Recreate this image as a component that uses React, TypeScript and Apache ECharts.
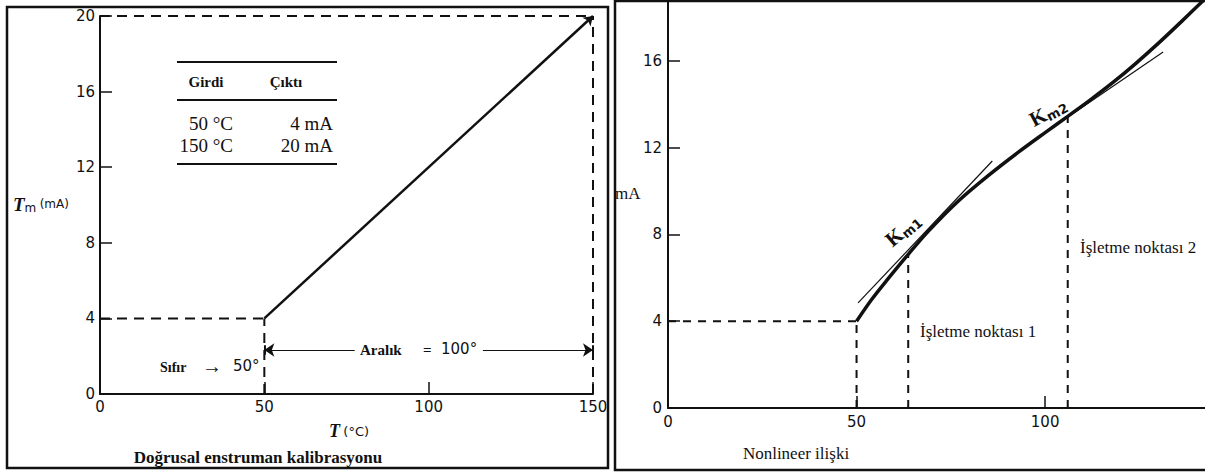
import React, { useEffect, useRef } from "react";
import * as echarts from "echarts";

// Left: linear calibration
const calibInput = [50, 150]; // °C
const calibOutput = [4, 20]; // mA
const rangeArrowLevel = 2.33;
const rangeGap = [77.5, 116.5];

// Right: nonlinear relation
const nonlinearT = [50, 54, 58, 63.7, 69, 77, 85, 93, 100, 106, 112, 118, 124, 130, 136, 142.4];
const nonlinearMA = [4, 5.0, 5.88, 7.08, 8.14, 9.54, 10.72, 11.8, 12.69, 13.44, 14.2, 15.0, 15.87, 16.8, 17.78, 18.85];
const opT = [63.7, 106];
const opMA = [7.08, 13.44];
const tangent1 = [[50.4, 4.84], [86, 11.38]];
const tangent2 = [[98, 12.45], [131.3, 16.4]];

const INK = "#111";
const SERIF = "'Liberation Serif', 'Times New Roman', serif";
const SANS = "'DejaVu Sans', sans-serif";

function dashed(xAxisIndex: number, data: number[][], dash: number[], width = 2) {
  return {
    type: "line",
    xAxisIndex,
    yAxisIndex: xAxisIndex,
    data,
    symbol: "none",
    silent: true,
    lineStyle: { color: INK, width, type: dash },
    z: 3,
  };
}

function txt(x: number, y: number, text: string, size: number, family: string, opts: any = {}) {
  const { weight = "normal", style = "normal", align = "left", rotation = 0 } = opts;
  return {
    type: "text",
    x,
    y,
    rotation,
    style: {
      text,
      fontSize: size,
      fontFamily: family,
      fontWeight: weight,
      fontStyle: style,
      fill: INK,
      textAlign: align,
      textVerticalAlign: "middle",
    },
  };
}

export default function App() {
  const ref = useRef<HTMLDivElement>(null);
  useEffect(() => {
    if (!ref.current) return;
    const chart = echarts.init(ref.current, undefined, { renderer: "svg" });
    const [x0, x1] = calibInput;
    const [y0, y1] = calibOutput;
    const curve = nonlinearT.map((t, i) => [t, nonlinearMA[i]]);
    const axisCommon = {
      axisLine: { show: true, lineStyle: { color: INK, width: 2 } },
      axisTick: { show: true, inside: true, length: 12, lineStyle: { color: INK, width: 1.5 } },
      splitLine: { show: false },
    };
    const kRich = {
      k: { fontSize: 21, fontWeight: "bold", fontFamily: SERIF, fill: INK },
      s: { fontSize: 13, fontWeight: "bold", fontFamily: SANS, fill: INK, padding: [9, 0, 0, 0] },
    };
    chart.setOption({
      animation: false,
      backgroundColor: "#fff",
      grid: [
        { left: 100, top: 16, width: 493, height: 378 },
        { left: 668, top: 0, width: 537, height: 408 },
      ],
      xAxis: [
        {
          gridIndex: 0, type: "value", min: 0, max: 150, interval: 50, ...axisCommon,
          axisLabel: { color: INK, fontFamily: SANS, fontSize: 15, margin: 5 },
        },
        {
          gridIndex: 1, type: "value", min: 0, max: 142.4, interval: 50, ...axisCommon,
          axisLabel: { color: INK, fontFamily: SANS, fontSize: 15, margin: 6, showMaxLabel: false },
        },
      ],
      yAxis: [
        {
          gridIndex: 0, type: "value", min: 0, max: 20, interval: 4, ...axisCommon,
          axisLabel: { color: INK, fontFamily: SANS, fontSize: 15, margin: 5 },
        },
        {
          gridIndex: 1, type: "value", min: 0, max: 18.8, interval: 4, ...axisCommon,
          axisLabel: { color: INK, fontFamily: SANS, fontSize: 15, margin: 6, showMaxLabel: false },
        },
      ],
      series: [
        dashed(0, [[0, y1], [x1, y1]], [10, 7]),
        dashed(0, [[x1, 0], [x1, y1]], [10, 7]),
        dashed(0, [[0, y0], [x0, y0]], [10, 7]),
        dashed(0, [[x0, 0], [x0, y0]], [10, 7]),
        {
          type: "lines", coordinateSystem: "cartesian2d", xAxisIndex: 0, yAxisIndex: 0,
          symbol: ["none", "arrow"], symbolSize: 9, silent: true, z: 4,
          lineStyle: { color: INK, width: 2.5, opacity: 1 },
          data: [{ coords: [[x0, y0], [x1, y1]] }],
        },
        {
          type: "lines", coordinateSystem: "cartesian2d", xAxisIndex: 0, yAxisIndex: 0,
          symbolSize: 10, silent: true, z: 4,
          lineStyle: { color: INK, width: 1.2, opacity: 1 },
          data: [
            { coords: [[x0, rangeArrowLevel], [rangeGap[0], rangeArrowLevel]], symbol: ["arrow", "none"] },
            { coords: [[rangeGap[1], rangeArrowLevel], [x1, rangeArrowLevel]], symbol: ["none", "arrow"] },
            { coords: [[x0, rangeArrowLevel - 0.25], [x0, rangeArrowLevel + 0.25]], symbol: ["none", "none"], lineStyle: { width: 2 } },
            { coords: [[x1, rangeArrowLevel - 0.25], [x1, rangeArrowLevel + 0.25]], symbol: ["none", "none"], lineStyle: { width: 2 } },
          ],
        },
        dashed(1, [[0, nonlinearMA[0]], [nonlinearT[0], nonlinearMA[0]]], [8, 7]),
        dashed(1, [[nonlinearT[0], 0], [nonlinearT[0], nonlinearMA[0]]], [8, 7]),
        dashed(1, [[opT[0], 0], [opT[0], opMA[0]]], [8, 7]),
        dashed(1, [[opT[1], 0], [opT[1], opMA[1]]], [8, 7]),
        {
          type: "lines", coordinateSystem: "cartesian2d", xAxisIndex: 1, yAxisIndex: 1,
          symbol: ["none", "none"], silent: true, z: 4,
          lineStyle: { color: INK, width: 1.2, opacity: 1 },
          data: [{ coords: tangent1 }, { coords: tangent2 }],
        },
        {
          type: "line", xAxisIndex: 1, yAxisIndex: 1, data: curve, smooth: 0.3,
          symbol: "none", silent: true, z: 5,
          lineStyle: { color: INK, width: 3.5 },
        },
      ],
      graphic: [
        { type: "rect", shape: { x: 7, y: 7, width: 601, height: 461 }, style: { fill: "none", stroke: INK, lineWidth: 2.5 }, z: 10 },
        { type: "rect", shape: { x: 615, y: 1, width: 600, height: 469 }, style: { fill: "none", stroke: INK, lineWidth: 2.5 }, z: 10 },
        { type: "line", shape: { x1: 177, y1: 62, x2: 337, y2: 62 }, style: { stroke: INK, lineWidth: 2 } },
        { type: "line", shape: { x1: 177, y1: 100, x2: 337, y2: 100 }, style: { stroke: INK, lineWidth: 2 } },
        { type: "line", shape: { x1: 177, y1: 164, x2: 337, y2: 164 }, style: { stroke: INK, lineWidth: 2 } },
        txt(206, 82, "Girdi", 15, SERIF, { weight: "bold", align: "center" }),
        txt(286, 82, "Çıktı", 15, SERIF, { weight: "bold", align: "center" }),
        txt(233, 123, "50 °C", 19, SERIF, { align: "right" }),
        txt(233, 145, "150 °C", 19, SERIF, { align: "right" }),
        txt(333, 123, "4 mA", 19, SERIF, { align: "right" }),
        txt(333, 145, "20 mA", 19, SERIF, { align: "right" }),
        {
          type: "text", x: 13, y: 204,
          style: {
            text: "{t|T}{s|m} {u|(mA)}", textVerticalAlign: "middle", fill: INK,
            rich: {
              t: { fontSize: 19, fontStyle: "italic", fontWeight: "bold", fontFamily: SERIF, fill: INK },
              s: { fontSize: 12, fontFamily: SANS, fill: INK, padding: [8, 0, 0, 0] },
              u: { fontSize: 12, fontFamily: SANS, fill: INK },
            },
          },
        },
        {
          type: "text", x: 329, y: 431,
          style: {
            text: "{t|T} {u|(°C)}", textVerticalAlign: "middle", fill: INK,
            rich: {
              t: { fontSize: 18, fontStyle: "italic", fontWeight: "bold", fontFamily: SERIF, fill: INK },
              u: { fontSize: 13, fontFamily: SANS, fill: INK },
            },
          },
        },
        txt(160, 367, "Sıfır", 14, SERIF, { weight: "bold" }),
        txt(202, 366, "→", 20, SERIF),
        txt(233, 366, "50°", 15, SANS),
        txt(360, 350, "Aralık", 15, SERIF, { weight: "bold" }),
        txt(423, 350, "=", 15, SERIF, { weight: "bold" }),
        txt(441, 349, "100°", 15, SANS),
        txt(258, 457, "Doğrusal enstruman kalibrasyonu", 17, SERIF, { weight: "bold", align: "center" }),
        txt(615, 193, "mA", 17, SERIF),
        txt(796, 453, "Nonlineer ilişki", 17, SERIF, { align: "center" }),
        txt(920, 331, "İşletme noktası 1", 17, SERIF),
        txt(1080, 247, "İşletme noktası 2", 17, SERIF),
        {
          type: "text", x: 903, y: 230, rotation: (40 * Math.PI) / 180,
          style: { text: "{k|K}{s|m1}", textAlign: "center", textVerticalAlign: "middle", fill: INK, rich: kRich },
        },
        {
          type: "text", x: 1048, y: 112, rotation: (28 * Math.PI) / 180,
          style: { text: "{k|K}{s|m2}", textAlign: "center", textVerticalAlign: "middle", fill: INK, rich: kRich },
        },
      ],
    });
    return () => chart.dispose();
  }, []);
  return (
    <div
      ref={ref}
      style={{ position: "fixed", left: 0, top: 0, width: 1205, height: 472, background: "#fff" }}
    />
  );
}
